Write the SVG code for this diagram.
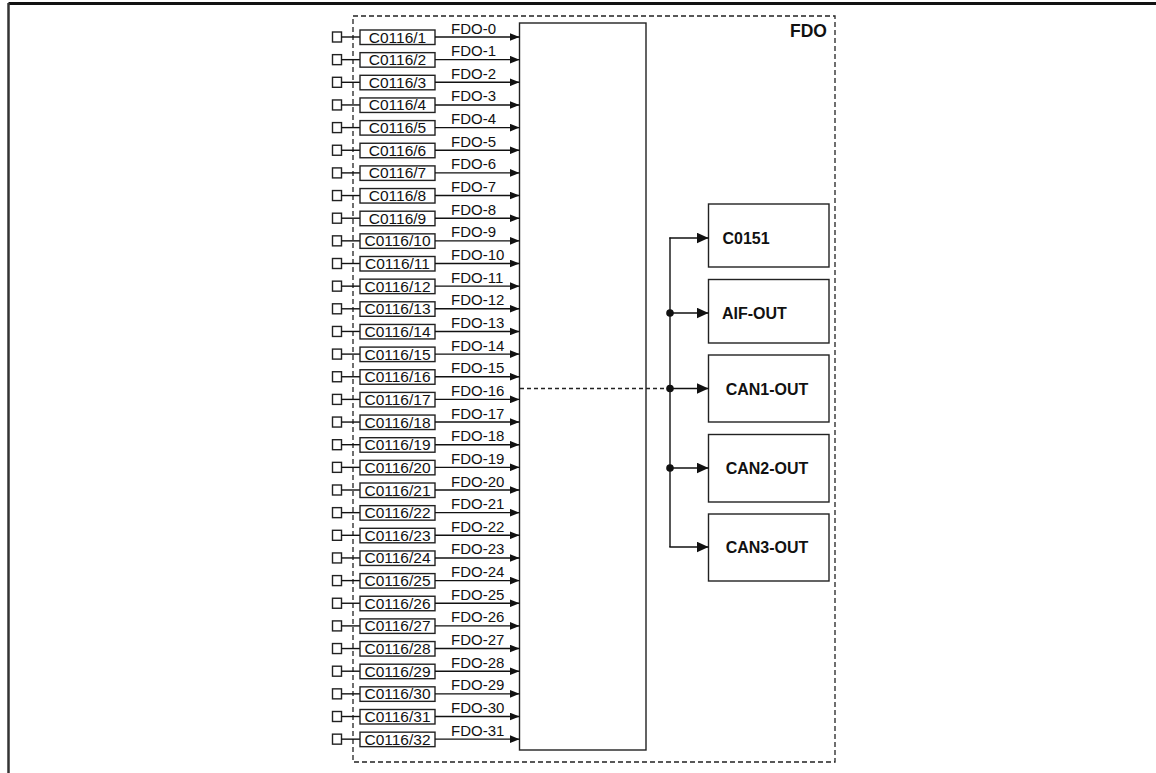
<svg xmlns="http://www.w3.org/2000/svg" width="1156" height="773" viewBox="0 0 1156 773">
<defs>
<style>
.t{font-family:"Liberation Sans",Arial,sans-serif;font-size:15px;fill:#111}
.c{font-family:"Liberation Sans",Arial,sans-serif;font-size:15.5px;fill:#111}
.b{font-family:"Liberation Sans",Arial,sans-serif;font-size:16px;font-weight:bold;fill:#111}
.box{fill:#fff;stroke:#222;stroke-width:1.4}
.ln{stroke:#111;stroke-width:1.4;fill:none}
.dash{stroke:#222;stroke-width:1.3;fill:none;stroke-dasharray:5 3}
</style>
<marker id="a" markerUnits="userSpaceOnUse" markerWidth="10" markerHeight="8" refX="10" refY="4" orient="auto"><path d="M0,0 L10,4 L0,8 z" fill="#111"/></marker>
<marker id="A" markerUnits="userSpaceOnUse" markerWidth="12" markerHeight="11" refX="12" refY="5.5" orient="auto"><path d="M0,0 L12,5.5 L0,11 z" fill="#111"/></marker>
<g id="rowT">
<rect class="box" x="332.5" y="-5" width="9" height="10"/>
<line class="ln" x1="341.5" y1="0" x2="360" y2="0"/>
<rect class="box" x="360" y="-7" width="75" height="14.5"/>
</g>
</defs>
<rect width="1156" height="773" fill="#fff"/>
<g id="outer-frame">
<line x1="8.5" y1="3.5" x2="1156" y2="3.5" stroke="#111" stroke-width="3"/>
<line x1="8.5" y1="3" x2="8.5" y2="773" stroke="#333" stroke-width="2.5"/>
</g>
<g id="fdo-frame">
<rect class="dash" x="353" y="16" width="482" height="746"/>
<text class="b" x="827" y="36.5" text-anchor="end" style="font-size:17.5px">FDO</text>
</g>
<g id="fdo-block"><rect class="box" x="519.5" y="23" width="126.5" height="727"/></g>
<g id="inputs">
<g id="in1" transform="translate(0,37)"><use href="#rowT"/><text class="c" x="397.5" y="5.5" text-anchor="middle">C0116/1</text><text class="t" x="451" y="-3.5">FDO-0</text></g>
<g id="in2" transform="translate(0,59.65)"><use href="#rowT"/><text class="c" x="397.5" y="5.5" text-anchor="middle">C0116/2</text><text class="t" x="451" y="-3.5">FDO-1</text></g>
<g id="in3" transform="translate(0,82.3)"><use href="#rowT"/><text class="c" x="397.5" y="5.5" text-anchor="middle">C0116/3</text><text class="t" x="451" y="-3.5">FDO-2</text></g>
<g id="in4" transform="translate(0,104.95)"><use href="#rowT"/><text class="c" x="397.5" y="5.5" text-anchor="middle">C0116/4</text><text class="t" x="451" y="-3.5">FDO-3</text></g>
<g id="in5" transform="translate(0,127.6)"><use href="#rowT"/><text class="c" x="397.5" y="5.5" text-anchor="middle">C0116/5</text><text class="t" x="451" y="-3.5">FDO-4</text></g>
<g id="in6" transform="translate(0,150.25)"><use href="#rowT"/><text class="c" x="397.5" y="5.5" text-anchor="middle">C0116/6</text><text class="t" x="451" y="-3.5">FDO-5</text></g>
<g id="in7" transform="translate(0,172.9)"><use href="#rowT"/><text class="c" x="397.5" y="5.5" text-anchor="middle">C0116/7</text><text class="t" x="451" y="-3.5">FDO-6</text></g>
<g id="in8" transform="translate(0,195.55)"><use href="#rowT"/><text class="c" x="397.5" y="5.5" text-anchor="middle">C0116/8</text><text class="t" x="451" y="-3.5">FDO-7</text></g>
<g id="in9" transform="translate(0,218.2)"><use href="#rowT"/><text class="c" x="397.5" y="5.5" text-anchor="middle">C0116/9</text><text class="t" x="451" y="-3.5">FDO-8</text></g>
<g id="in10" transform="translate(0,240.85)"><use href="#rowT"/><text class="c" x="397.5" y="5.5" text-anchor="middle">C0116/10</text><text class="t" x="451" y="-3.5">FDO-9</text></g>
<g id="in11" transform="translate(0,263.5)"><use href="#rowT"/><text class="c" x="397.5" y="5.5" text-anchor="middle">C0116/11</text><text class="t" x="451" y="-3.5">FDO-10</text></g>
<g id="in12" transform="translate(0,286.15)"><use href="#rowT"/><text class="c" x="397.5" y="5.5" text-anchor="middle">C0116/12</text><text class="t" x="451" y="-3.5">FDO-11</text></g>
<g id="in13" transform="translate(0,308.8)"><use href="#rowT"/><text class="c" x="397.5" y="5.5" text-anchor="middle">C0116/13</text><text class="t" x="451" y="-3.5">FDO-12</text></g>
<g id="in14" transform="translate(0,331.45)"><use href="#rowT"/><text class="c" x="397.5" y="5.5" text-anchor="middle">C0116/14</text><text class="t" x="451" y="-3.5">FDO-13</text></g>
<g id="in15" transform="translate(0,354.1)"><use href="#rowT"/><text class="c" x="397.5" y="5.5" text-anchor="middle">C0116/15</text><text class="t" x="451" y="-3.5">FDO-14</text></g>
<g id="in16" transform="translate(0,376.75)"><use href="#rowT"/><text class="c" x="397.5" y="5.5" text-anchor="middle">C0116/16</text><text class="t" x="451" y="-3.5">FDO-15</text></g>
<g id="in17" transform="translate(0,399.4)"><use href="#rowT"/><text class="c" x="397.5" y="5.5" text-anchor="middle">C0116/17</text><text class="t" x="451" y="-3.5">FDO-16</text></g>
<g id="in18" transform="translate(0,422.05)"><use href="#rowT"/><text class="c" x="397.5" y="5.5" text-anchor="middle">C0116/18</text><text class="t" x="451" y="-3.5">FDO-17</text></g>
<g id="in19" transform="translate(0,444.7)"><use href="#rowT"/><text class="c" x="397.5" y="5.5" text-anchor="middle">C0116/19</text><text class="t" x="451" y="-3.5">FDO-18</text></g>
<g id="in20" transform="translate(0,467.35)"><use href="#rowT"/><text class="c" x="397.5" y="5.5" text-anchor="middle">C0116/20</text><text class="t" x="451" y="-3.5">FDO-19</text></g>
<g id="in21" transform="translate(0,490)"><use href="#rowT"/><text class="c" x="397.5" y="5.5" text-anchor="middle">C0116/21</text><text class="t" x="451" y="-3.5">FDO-20</text></g>
<g id="in22" transform="translate(0,512.65)"><use href="#rowT"/><text class="c" x="397.5" y="5.5" text-anchor="middle">C0116/22</text><text class="t" x="451" y="-3.5">FDO-21</text></g>
<g id="in23" transform="translate(0,535.3)"><use href="#rowT"/><text class="c" x="397.5" y="5.5" text-anchor="middle">C0116/23</text><text class="t" x="451" y="-3.5">FDO-22</text></g>
<g id="in24" transform="translate(0,557.95)"><use href="#rowT"/><text class="c" x="397.5" y="5.5" text-anchor="middle">C0116/24</text><text class="t" x="451" y="-3.5">FDO-23</text></g>
<g id="in25" transform="translate(0,580.6)"><use href="#rowT"/><text class="c" x="397.5" y="5.5" text-anchor="middle">C0116/25</text><text class="t" x="451" y="-3.5">FDO-24</text></g>
<g id="in26" transform="translate(0,603.25)"><use href="#rowT"/><text class="c" x="397.5" y="5.5" text-anchor="middle">C0116/26</text><text class="t" x="451" y="-3.5">FDO-25</text></g>
<g id="in27" transform="translate(0,625.9)"><use href="#rowT"/><text class="c" x="397.5" y="5.5" text-anchor="middle">C0116/27</text><text class="t" x="451" y="-3.5">FDO-26</text></g>
<g id="in28" transform="translate(0,648.55)"><use href="#rowT"/><text class="c" x="397.5" y="5.5" text-anchor="middle">C0116/28</text><text class="t" x="451" y="-3.5">FDO-27</text></g>
<g id="in29" transform="translate(0,671.2)"><use href="#rowT"/><text class="c" x="397.5" y="5.5" text-anchor="middle">C0116/29</text><text class="t" x="451" y="-3.5">FDO-28</text></g>
<g id="in30" transform="translate(0,693.85)"><use href="#rowT"/><text class="c" x="397.5" y="5.5" text-anchor="middle">C0116/30</text><text class="t" x="451" y="-3.5">FDO-29</text></g>
<g id="in31" transform="translate(0,716.5)"><use href="#rowT"/><text class="c" x="397.5" y="5.5" text-anchor="middle">C0116/31</text><text class="t" x="451" y="-3.5">FDO-30</text></g>
<g id="in32" transform="translate(0,739.15)"><use href="#rowT"/><text class="c" x="397.5" y="5.5" text-anchor="middle">C0116/32</text><text class="t" x="451" y="-3.5">FDO-31</text></g>
</g>
<g id="out-c0151"><rect class="box" x="708.5" y="204" width="120.5" height="63"/><text class="b" x="722.5" y="243.5">C0151</text></g>
<g id="out-aif"><rect class="box" x="708.5" y="279.5" width="120.5" height="63.5"/><text class="b" x="722" y="318.5">AIF-OUT</text></g>
<g id="out-can1"><rect class="box" x="708.5" y="355" width="120.5" height="67"/><text class="b" x="767" y="394.5" text-anchor="middle">CAN1-OUT</text></g>
<g id="out-can2"><rect class="box" x="708.5" y="434.5" width="120.5" height="67.5"/><text class="b" x="767" y="473.5" text-anchor="middle">CAN2-OUT</text></g>
<g id="out-can3"><rect class="box" x="708.5" y="514" width="120.5" height="67"/><text class="b" x="767" y="553" text-anchor="middle">CAN3-OUT</text></g>
<g id="connectors">
<g class="ln" marker-end="url(#a)">
<line x1="435" y1="37" x2="519.5" y2="37"/>
<line x1="435" y1="59.65" x2="519.5" y2="59.65"/>
<line x1="435" y1="82.3" x2="519.5" y2="82.3"/>
<line x1="435" y1="104.95" x2="519.5" y2="104.95"/>
<line x1="435" y1="127.6" x2="519.5" y2="127.6"/>
<line x1="435" y1="150.25" x2="519.5" y2="150.25"/>
<line x1="435" y1="172.9" x2="519.5" y2="172.9"/>
<line x1="435" y1="195.55" x2="519.5" y2="195.55"/>
<line x1="435" y1="218.2" x2="519.5" y2="218.2"/>
<line x1="435" y1="240.85" x2="519.5" y2="240.85"/>
<line x1="435" y1="263.5" x2="519.5" y2="263.5"/>
<line x1="435" y1="286.15" x2="519.5" y2="286.15"/>
<line x1="435" y1="308.8" x2="519.5" y2="308.8"/>
<line x1="435" y1="331.45" x2="519.5" y2="331.45"/>
<line x1="435" y1="354.1" x2="519.5" y2="354.1"/>
<line x1="435" y1="376.75" x2="519.5" y2="376.75"/>
<line x1="435" y1="399.4" x2="519.5" y2="399.4"/>
<line x1="435" y1="422.05" x2="519.5" y2="422.05"/>
<line x1="435" y1="444.7" x2="519.5" y2="444.7"/>
<line x1="435" y1="467.35" x2="519.5" y2="467.35"/>
<line x1="435" y1="490" x2="519.5" y2="490"/>
<line x1="435" y1="512.65" x2="519.5" y2="512.65"/>
<line x1="435" y1="535.3" x2="519.5" y2="535.3"/>
<line x1="435" y1="557.95" x2="519.5" y2="557.95"/>
<line x1="435" y1="580.6" x2="519.5" y2="580.6"/>
<line x1="435" y1="603.25" x2="519.5" y2="603.25"/>
<line x1="435" y1="625.9" x2="519.5" y2="625.9"/>
<line x1="435" y1="648.55" x2="519.5" y2="648.55"/>
<line x1="435" y1="671.2" x2="519.5" y2="671.2"/>
<line x1="435" y1="693.85" x2="519.5" y2="693.85"/>
<line x1="435" y1="716.5" x2="519.5" y2="716.5"/>
<line x1="435" y1="739.15" x2="519.5" y2="739.15"/>
</g>
<line x1="520" y1="388.5" x2="670" y2="388.5" stroke="#222" stroke-width="1.3" stroke-dasharray="4 3"/>
<line class="ln" x1="670" y1="237.5" x2="670" y2="547"/>
<g class="ln" marker-end="url(#A)">
<line x1="669.3" y1="238" x2="708.5" y2="238"/>
<line x1="670" y1="313" x2="708.5" y2="313"/>
<line x1="670" y1="388.5" x2="708.5" y2="388.5"/>
<line x1="670" y1="468" x2="708.5" y2="468"/>
<line x1="669.3" y1="547" x2="708.5" y2="547"/>
</g>
<circle cx="670" cy="313" r="3.8" fill="#111"/>
<circle cx="670" cy="388.5" r="3.8" fill="#111"/>
<circle cx="670" cy="468" r="3.8" fill="#111"/>
</g>
</svg>
